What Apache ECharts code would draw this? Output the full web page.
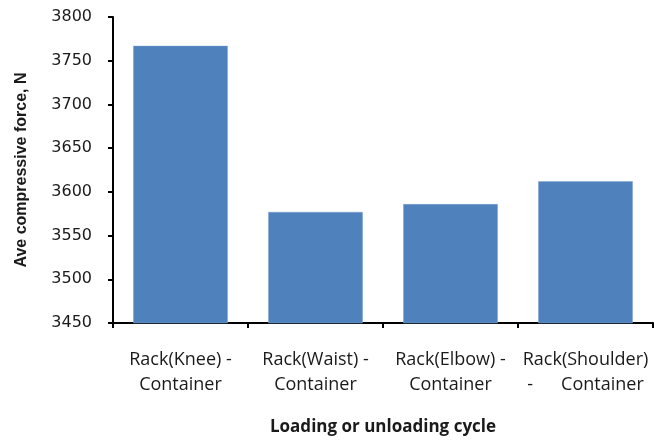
<!DOCTYPE html>
<html>
<head>
<meta charset="utf-8">
<script src="https://cdn.jsdelivr.net/npm/echarts@6/dist/echarts.min.js"></script>
<style>
  html, body { margin: 0; padding: 0; background: #fff; }
  #chart { width: 654px; height: 441px; }
</style>
</head>
<body>
<div id="chart"></div>
<script>
const categories = [
  'Rack(Knee) -\nContainer',
  'Rack(Waist) -\nContainer',
  'Rack(Elbow) -\nContainer',
  'Rack(Shoulder)\n-      Container'
]
const forceValues = [3767, 3577, 3586, 3612]
const yTicks = { min: 3450, max: 3800, step: 50 }

const chart = echarts.init(document.getElementById('chart'))
const axisLine = { lineStyle: { color: '#000', width: 2 } }

chart.setOption({
  animation: false,
  grid: { left: 113, right: 1, top: 17, bottom: 118 },
  xAxis: {
    type: 'category',
    data: categories,
    axisLine: axisLine,
    axisTick: { show: true, length: 5, lineStyle: { color: '#000', width: 2 } },
    axisLabel: {
      margin: 24,
      fontSize: 18,
      lineHeight: 25,
      color: '#1a1a1a',
      fontFamily: 'Open Sans',
      interval: 0
    },
    name: 'Loading or unloading cycle',
    nameLocation: 'middle',
    nameGap: 96,
    nameTextStyle: { fontSize: 17, fontWeight: 'bold', color: '#1a1a1a', fontFamily: 'Open Sans' }
  },
  yAxis: {
    type: 'value',
    min: yTicks.min,
    max: yTicks.max,
    interval: yTicks.step,
    splitLine: { show: false },
    axisLine: { show: true, ...axisLine },
    axisTick: { show: true, length: 5, lineStyle: { color: '#000', width: 2 } },
    axisLabel: {
      margin: 21,
      fontSize: 16,
      color: '#1a1a1a',
      fontFamily: 'DejaVu Sans',
      formatter: v => String(v)
    },
    name: 'Ave compressive force, N',
    nameLocation: 'middle',
    nameGap: 83,
    nameTextStyle: { fontSize: 16, fontWeight: 'bold', color: '#1a1a1a', fontFamily: 'Liberation Sans' }
  },
  series: [{
    type: 'bar',
    data: forceValues,
    barCategoryGap: '30%',
    itemStyle: { color: '#4F81BD', borderColor: '#7b9fcf', borderWidth: 0.5 }
  }]
})
</script>
</body>
</html>
